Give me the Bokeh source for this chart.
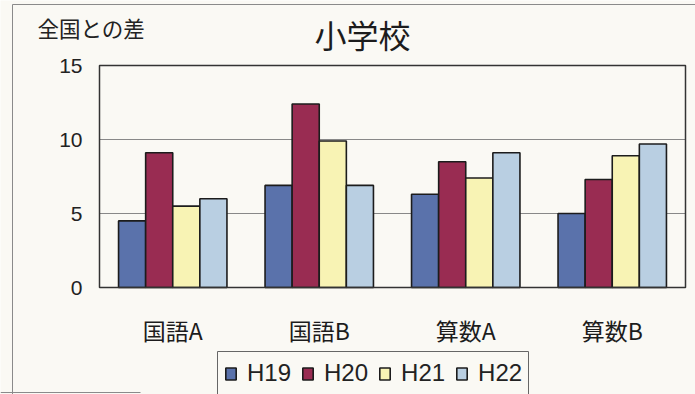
from bokeh.plotting import figure
from bokeh.models import (ColumnDataSource, FixedTicker, Legend, LegendItem, LinearAxis,
                          Range1d)
from bokeh.core.properties import value
from bokeh.transform import dodge
from bokeh.embed import file_html
from bokeh.resources import INLINE

# 全国平均との差（小学校）
subjects = ["国語A", "国語B", "算数A", "算数B"]
years = ["H19", "H20", "H21", "H22"]
h19 = [4.5, 6.9, 6.3, 5.0]
h20 = [9.1, 12.4, 8.5, 7.3]
h21 = [5.5, 9.9, 7.4, 8.9]
h22 = [6.0, 6.9, 9.1, 9.7]
y_ticks = [0, 5, 10, 15]

colors = ["#5a72ab", "#992c52", "#f8f3b4", "#b9cfe2"]
paper = "#faf9f4"
frame_grey = "#8a8a8a"
ink = "#1c1c1c"
jp_font = "Noto Sans CJK JP"
num_font = "Liberation Sans"

# canvas and plot-area geometry (pixels)
W, H = 695, 394
AREA_L, AREA_R, AREA_T, AREA_B = 99, 685, 65, 287
n_cat = len(subjects)
y_max = y_ticks[-1]
x_unit = (AREA_R - AREA_L) / n_cat
y_unit = (AREA_B - AREA_T) / y_max

# the frame spans the whole canvas; data ranges are stretched so that the
# category slots and the 0-15 scale land on the plot area
p = figure(width=W, height=H, output_backend="svg", toolbar_location=None,
           x_range=Range1d(-AREA_L / x_unit, n_cat + (W - AREA_R) / x_unit),
           y_range=Range1d(-(H - AREA_B) / y_unit, y_max + AREA_T / y_unit),
           x_axis_location=None, y_axis_location=None,
           min_border=0, min_border_left=0, min_border_right=0,
           min_border_top=0, min_border_bottom=0)
p.extra_x_ranges = {"px": Range1d(0, W)}
p.extra_y_ranges = {"px": Range1d(H, 0)}
p.grid.visible = False
p.outline_line_color = None
p.background_fill_color = paper
p.border_fill_color = paper

centers = [i + 0.5 for i in range(n_cat)]
source = ColumnDataSource(dict(xc=centers, H19=h19, H20=h20, H21=h21, H22=h22))

# horizontal grid lines inside the plot area
inner = [t for t in y_ticks if 0 < t < y_max]
p.segment(x0=[0] * len(inner), x1=[n_cat] * len(inner), y0=inner, y1=inner,
          line_color="#888888", line_width=1)

# bars
bar_w = 0.185
offsets = [-1.5 * bar_w, -0.5 * bar_w, 0.5 * bar_w, 1.5 * bar_w]
bars = []
for yr, off, col in zip(years, offsets, colors):
    bars.append(p.vbar(x=dodge("xc", off), top=yr, width=bar_w, bottom=0, source=source,
                       fill_color=col, line_color=ink, line_width=1.6))

# plot-area border
p.quad(left=[0], right=[n_cat], bottom=[0], top=[y_max],
       fill_alpha=0, line_color="#333333", line_width=1.5)

# axes pinned to the plot-area edges
yax = LinearAxis(fixed_location=0, ticker=FixedTicker(ticks=y_ticks),
                 axis_line_color=None, major_tick_line_color=None,
                 minor_tick_line_color=None,
                 major_label_text_font=num_font, major_label_text_font_size="21px",
                 major_label_text_color="#222222", major_label_standoff=11)
p.add_layout(yax, "left")
xax = LinearAxis(fixed_location=0, ticker=FixedTicker(ticks=centers),
                 major_label_overrides={c: s for c, s in zip(centers, subjects)},
                 axis_line_color=None, major_tick_line_color=None,
                 minor_tick_line_color=None, major_tick_out=0,
                 major_label_text_font=jp_font, major_label_text_font_size="23px",
                 major_label_text_color=ink, major_label_standoff=25)
p.add_layout(xax, "below")

# outer frame lines of the panel
p.segment(x0=[12, 12, 0], y0=[4, 4, 392], x1=[W, 12, 140], y1=[4, H, 392],
          line_color=frame_grey, line_width=1, x_range_name="px", y_range_name="px")

# caption and title
p.text(x=[37], y=[27], text=["全国との差"], text_font=value(jp_font),
       text_font_size="21.5px", text_color="#222222", text_align="left",
       text_baseline="middle", x_range_name="px", y_range_name="px")
p.text(x=[362], y=[33], text=["小学校"], text_font=value(jp_font),
       text_font_size="32px", text_color=ink, text_align="center",
       text_baseline="middle", x_range_name="px", y_range_name="px")

# legend with an open-bottomed box
p.quad(left=[217], right=[528], top=[351], bottom=[H + 10], fill_alpha=0,
       line_color="#666666", line_width=1, x_range_name="px", y_range_name="px")
legend = Legend(items=[LegendItem(label=y, renderers=[r]) for y, r in zip(years, bars)],
                orientation="horizontal", location=(219, 2),
                padding=5, margin=0, spacing=10, label_standoff=10,
                glyph_width=13, glyph_height=15,
                label_text_font=num_font, label_text_font_size="24px",
                label_text_color="#222222",
                border_line_alpha=0, background_fill_alpha=0)
p.add_layout(legend)

open("out.html", "w").write(file_html(p, INLINE))
